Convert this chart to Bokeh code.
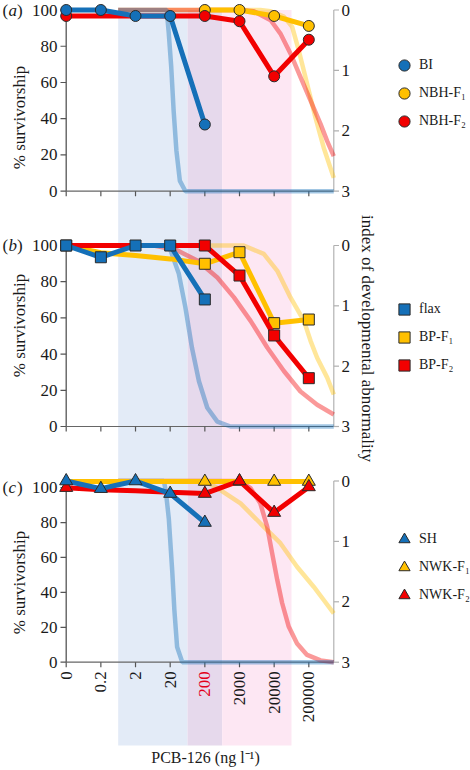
import math
from bokeh.plotting import figure
from bokeh.models import Range1d, Legend, LegendItem
from bokeh.core.properties import value
from bokeh.embed import file_html
from bokeh.resources import INLINE

nan = float("nan")

# ---------------- data ----------------
conc_labels = ["0", "0.2", "2", "20", "200", "2000", "20000", "200000"]
conc_pos = [0, 1, 2, 3, 4, 5, 6, 7]
conc_label_colors = ["#1a1a1a", "#1a1a1a", "#1a1a1a", "#1a1a1a", "#e3001b", "#1a1a1a", "#1a1a1a", "#1a1a1a"]

# shaded concentration ranges (category positions)
band_left = [1.5, 3.5, 4.5]
band_right = [3.5, 4.5, 6.5]
band_colors = ["#e3ebf7", "#e6d9ec", "#fde7f3"]

surv_ticks = [0, 20, 40, 60, 80, 100]
surv_tick_labels = ["0", "20", "40", "60", "80", "100"]
index_ticks = [0, 1, 2, 3]
index_tick_labels = ["0", "1", "2", "3"]

# panel (a): BI, NBH-F1, NBH-F2  (% survivorship)
BI_surv = [100, 100, 96.7, 96.7, 36.8, nan, nan, nan]
BI_marked = [0, 1, 2, 3, 4]
NBH_F1_surv = [nan, nan, nan, nan, 100, 100, 96.7, 91.2]
NBH_F1_marked = [4, 5, 6, 7]
NBH_F2_surv = [96.7, 96.7, 96.7, 96.7, 96.7, 93.8, 63.4, 83.6]
NBH_F2_marked = [0, 4, 5, 6, 7]
# index of developmental abnormality curves (x in category units)
BI_idx_x = [1.5, 2.9, 2.96, 3.03, 3.1, 3.18, 3.28, 3.44, 7.72]
BI_idx = [0, 0, 0.39, 0.94, 1.67, 2.33, 2.83, 3.0, 3.0]
NBH_F1_idx_x = [1.5, 5.6, 5.9, 6.28, 6.52, 6.71, 6.95, 7.19, 7.43, 7.72]
NBH_F1_idx = [0, 0, 0.02, 0.11, 0.28, 0.67, 1.22, 1.78, 2.28, 2.78]
NBH_F2_idx_x = [1.5, 5.0, 5.41, 5.9, 6.18, 6.47, 6.76, 7.05, 7.34, 7.53, 7.72]
NBH_F2_idx = [0, 0, 0.02, 0.17, 0.39, 0.72, 1.11, 1.5, 1.89, 2.17, 2.42]

# panel (b): flax, BP-F1, BP-F2
flax_surv = [100, 93.5, 100, 100, 70.2, nan, nan, nan]
flax_marked = [0, 1, 2, 3, 4]
BP_F1_surv = [100, 96, 94.5, 92.6, 89.9, 96.3, 57.1, 59.1]
BP_F1_marked = [4, 5, 6, 7]
BP_F2_surv = [100, 100, 100, 100, 100, 83.4, 50.3, 26.7]
BP_F2_marked = [0, 4, 5, 6, 7]
flax_idx_x = [1.5, 2.9, 3.01, 3.25, 3.44, 3.63, 3.83, 4.07, 4.36, 4.74, 7.72]
flax_idx = [0, 0, 0.08, 0.47, 1.03, 1.7, 2.25, 2.69, 2.92, 3.0, 3.0]
BP_F1_idx_x = [1.5, 5.12, 5.7, 6.09, 6.47, 6.86, 7.05, 7.24, 7.53, 7.72]
BP_F1_idx = [0, 0, 0.14, 0.42, 0.86, 1.25, 1.58, 1.86, 2.19, 2.47]
BP_F2_idx_x = [1.5, 2.53, 3.2, 3.78, 4.36, 4.84, 5.32, 5.8, 6.28, 6.76, 7.24, 7.72]
BP_F2_idx = [0, 0, 0.08, 0.25, 0.53, 0.86, 1.25, 1.69, 2.08, 2.42, 2.64, 2.8]

# panel (c): SH, NWK-F1, NWK-F2
SH_surv = [103.8, 99.4, 103.8, 96.6, 80, nan, nan, nan]
SH_marked = [0, 1, 2, 3, 4]
NWK_F1_surv = [103.5, 103.5, 103.5, 103.5, 103.5, 103.5, 103.5, 103.5]
NWK_F1_marked = [4, 5, 6, 7]
NWK_F2_surv = [100, 98.8, 98.2, 97.3, 96.6, 103.8, 85.7, 100.4]
NWK_F2_marked = [0, 4, 5, 6, 7]
SH_idx_x = [1.5, 2.82, 2.88, 2.96, 3.06, 3.12, 3.2, 3.35, 7.72]
SH_idx = [0, 0, 0.2, 0.62, 1.5, 2.13, 2.75, 3.0, 3.0]
NWK_F1_idx_x = [1.5, 4.0, 4.45, 5.03, 5.6, 6.18, 6.66, 7.14, 7.43, 7.72]
NWK_F1_idx = [0, 0, 0.15, 0.37, 0.7, 1.03, 1.42, 1.75, 1.97, 2.19]
NWK_F2_idx_x = [1.5, 5.0, 5.32, 5.6, 5.8, 5.94, 6.09, 6.23, 6.42, 6.66, 6.95, 7.34, 7.72]
NWK_F2_idx = [0, 0, 0.12, 0.37, 0.76, 1.19, 1.64, 2.02, 2.41, 2.69, 2.88, 2.97, 3.0]

# ---------------- layout / style ----------------
BLUE, YELLOW, RED = "#1570b8", "#ffc000", "#f20000"
FONT = "Liberation Serif, Times New Roman, serif"
TXT = "#1a1a1a"

W, H = 470, 770
X0_REF, X_STEP = 65.7, 34.66           # canvas px of category 0, spacing
PANEL_TOP = [9.5, 245.0, 480.5]         # canvas px where index 0 sits
PANEL_BOT = [190.7, 426.0, 661.7]       # canvas px where 0 % / index 3 sits
LEFT_TOP = [100.0, 100.0, 103.8]        # % value at panel top
IDX_END = 7.72
BAND_BOTTOM = 745.0


def xd(px):
    return (px - X0_REF) / X_STEP


def px_to_surv(k, px):
    return px * LEFT_TOP[k] / (PANEL_BOT[k] - PANEL_TOP[k])


p = figure(width=W, height=H, output_backend="svg", toolbar_location=None,
           x_range=Range1d(xd(0), xd(W)), y_range=Range1d(H, 0),
           x_axis_location=None, y_axis_location=None,
           min_border_left=0, min_border_right=0, min_border_top=0, min_border_bottom=0)
p.outline_line_color = None
p.grid.visible = False
p.background_fill_color = "white"
p.border_fill_color = "white"

extra = {}
for k in range(3):
    top, bot, lt = PANEL_TOP[k], PANEL_BOT[k], LEFT_TOP[k]
    extra["L%d" % k] = Range1d(start=(bot - H) * lt / (bot - top), end=bot * lt / (bot - top))
    extra["R%d" % k] = Range1d(start=(H - top) * 3.0 / (bot - top), end=-top * 3.0 / (bot - top))
p.extra_y_ranges = extra

# shaded bands (spanning all panels)
p.quad(left=band_left, right=band_right, top=[PANEL_TOP[0]] * 3, bottom=[BAND_BOTTOM] * 3,
       fill_color=band_colors, line_color=None)

panels = [
    dict(tag="a", marker="circle", size=11, ylab=117,
         series=[("NBH-F₁", YELLOW, NBH_F1_surv, NBH_F1_marked, NBH_F1_idx_x, NBH_F1_idx),
                 ("NBH-F₂", RED, NBH_F2_surv, NBH_F2_marked, NBH_F2_idx_x, NBH_F2_idx),
                 ("BI", BLUE, BI_surv, BI_marked, BI_idx_x, BI_idx)],
         leg_first=65),
    dict(tag="b", marker="square", size=11, ylab=325,
         series=[("BP-F₁", YELLOW, BP_F1_surv, BP_F1_marked, BP_F1_idx_x, BP_F1_idx),
                 ("BP-F₂", RED, BP_F2_surv, BP_F2_marked, BP_F2_idx_x, BP_F2_idx),
                 ("flax", BLUE, flax_surv, flax_marked, flax_idx_x, flax_idx)],
         leg_first=309),
    dict(tag="c", marker="triangle", size=13, ylab=582,
         series=[("NWK-F₁", YELLOW, NWK_F1_surv, NWK_F1_marked, NWK_F1_idx_x, NWK_F1_idx),
                 ("NWK-F₂", RED, NWK_F2_surv, NWK_F2_marked, NWK_F2_idx_x, NWK_F2_idx),
                 ("SH", BLUE, SH_surv, SH_marked, SH_idx_x, SH_idx)],
         leg_first=539),
]

text_kw = dict(text_font=value(FONT), text_font_size="17px", text_color=TXT)

for k, pan in enumerate(panels):
    L, R = "L%d" % k, "R%d" % k
    # left axis: line, ticks, labels
    p.segment(x0=[0], y0=[0], x1=[0], y1=[100], y_range_name=L, line_color="#555555", line_width=1.3)
    p.segment(x0=[xd(60)] * len(surv_ticks), y0=surv_ticks, x1=[0] * len(surv_ticks), y1=surv_ticks,
              y_range_name=L, line_color="#555555", line_width=1.2)
    p.text(x=[xd(57)] * len(surv_ticks), y=surv_ticks, text=surv_tick_labels, y_range_name=L,
           text_align="right", text_baseline="middle", **text_kw)
    # bottom line + x ticks
    p.segment(x0=[0], y0=[0], x1=[IDX_END], y1=[0], y_range_name=L, line_color="#666666", line_width=1.2)
    tl = px_to_surv(k, 5)
    p.segment(x0=conc_pos, y0=[0] * 8, x1=conc_pos, y1=[-tl] * 8, y_range_name=L,
              line_color="#555555", line_width=1.2)
    # right axis: line, ticks, labels
    p.segment(x0=[IDX_END], y0=[0], x1=[IDX_END], y1=[3], y_range_name=R,
              line_color="#b8b8b8", line_width=1.3)
    p.segment(x0=[IDX_END] * 4, y0=index_ticks, x1=[xd(338.5)] * 4, y1=index_ticks, y_range_name=R,
              line_color="#b0b0b0", line_width=1.2)
    p.text(x=[xd(341)] * 4, y=index_ticks, text=index_tick_labels, y_range_name=R,
           text_align="left", text_baseline="middle", **text_kw)
    # faded index curves
    for name, col, surv, marked, ix, iv in pan["series"]:
        p.line(ix, iv, y_range_name=R, line_color=col, line_alpha=0.4, line_width=4.5)
    # survivorship lines + markers
    items = {}
    for name, col, surv, marked, ix, iv in pan["series"]:
        p.line(conc_pos, surv, y_range_name=L, line_color=col, line_width=5)
        r = p.scatter([conc_pos[i] for i in marked], [surv[i] for i in marked], y_range_name=L,
                      marker=pan["marker"], size=pan["size"], fill_color=col,
                      line_color="#2a2a2a", line_width=1)
        items[name] = r
    order = [pan["series"][2][0], pan["series"][0][0], pan["series"][1][0]]
    leg_h = 28
    top_px = pan["leg_first"] - leg_h / 2
    leg = Legend(items=[LegendItem(label=n, renderers=[items[n]]) for n in order],
                 location=(389, H - (top_px + 3 * leg_h)),
                 glyph_width=30, glyph_height=leg_h, spacing=0, padding=0, margin=0,
                 label_standoff=-2, border_line_color=None, background_fill_alpha=0,
                 label_text_font=FONT, label_text_font_size="14px", label_text_color=TXT)
    p.add_layout(leg)
    # panel tag "(a)" with upright parentheses, italic letter
    p.text(x=[xd(2), xd(16.5)], y=[100, 100], text=["(", ")"], y_range_name=L,
           text_align="left", text_baseline="middle", **text_kw)
    p.text(x=[xd(8)], y=[100], text=[pan["tag"]], y_range_name=L, text_align="left",
           text_baseline="middle", text_font_style="italic", **text_kw)
    p.text(x=[xd(19)], y=[pan["ylab"]], text=["% survivorship"], angle=math.pi / 2,
           text_align="center", text_baseline="middle", **text_kw)

# x tick labels (under panel c)
p.text(x=conc_pos, y=[-px_to_surv(2, 9)] * 8, text=conc_labels, y_range_name="L2",
       angle=math.pi / 2, text_align="right", text_baseline="middle",
       text_font=value(FONT), text_font_size="17px", text_color=conc_label_colors)

p.text(x=[xd(367)], y=[338], text=["index of developmental abnormality"], angle=-math.pi / 2,
       text_align="center", text_baseline="middle", **text_kw)
p.text(x=[xd(205)], y=[757], text=["PCB-126 (ng l⁻¹)"], text_align="center", text_baseline="middle",
       text_font=value(FONT), text_font_size="16px", text_color=TXT)

open("out.html", "w").write(file_html(p, INLINE))
